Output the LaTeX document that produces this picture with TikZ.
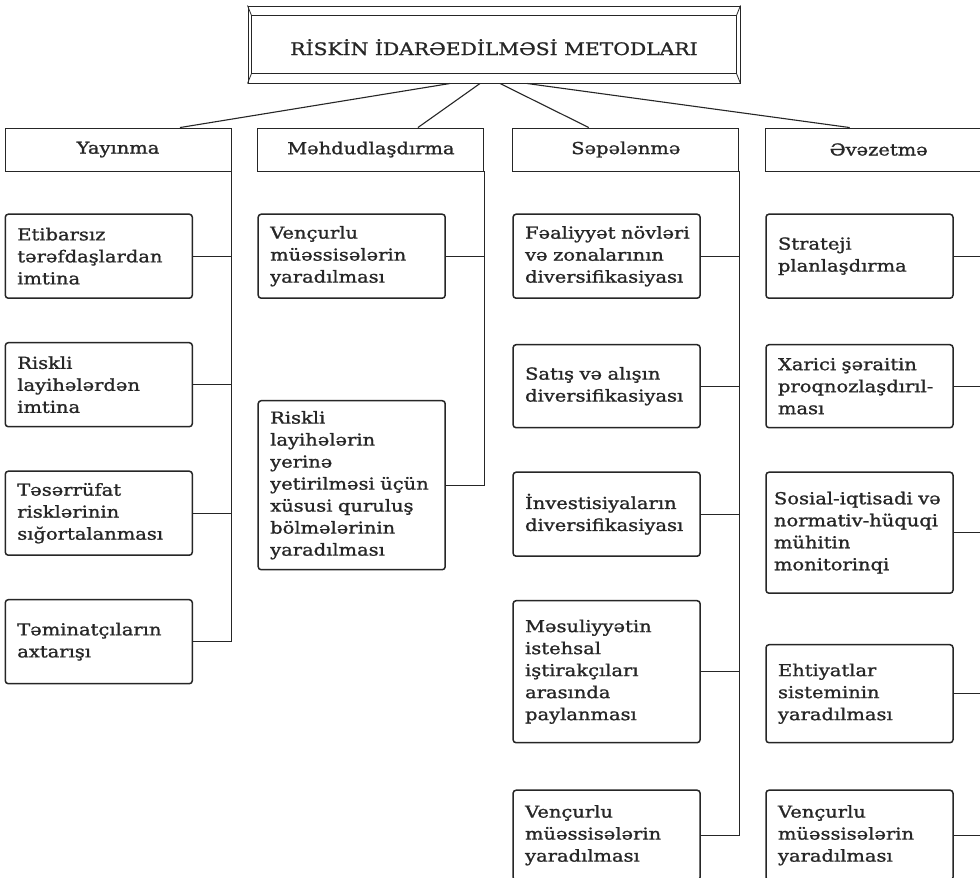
\documentclass[tikz,border=0pt]{standalone}
\usepackage{fontspec}
\setmainfont[FakeStretch=1.18, FakeBold=1.2]{DejaVu Serif}
\usetikzlibrary{positioning}
\definecolor{ink}{HTML}{262626}
\hyphenpenalty=10000
\exhyphenpenalty=10000

\begin{document}
\begin{tikzpicture}[x=1pt, y=-1pt,
  every node/.style={text=ink, font=\fontsize{16.5}{22}\selectfont},
  hd/.style={draw=ink, line width=0.9pt, minimum width=226pt,
             minimum height=43pt, inner sep=0pt},
  bx/.style={draw=ink, line width=1.5pt, rounded corners=3pt, align=left,
             text width=163pt, inner xsep=12pt, inner ysep=0pt, minimum height=84pt},
  ln/.style={draw=ink, line width=1.1pt}]
\fill[white] (0,0) rectangle (980,878);
\useasboundingbox (0,0) rectangle (980,878);
% title frame
\node[draw=ink, line width=1pt, minimum width=492pt, minimum height=77pt,
      text height=21pt, text depth=0pt, inner sep=0pt,
      font=\fontsize{17.2}{22}\selectfont] (t) at (494,44.5)
      {RİSKİN İDARƏEDİLMƏSİ METODLARI};
\draw[ln, line width=0.9pt] ([shift={(4pt,-10pt)}]t.north west)
  rectangle ([shift={(-4pt,10pt)}]t.south east);
\foreach \c/\dx/\dy in {north west/4/-10, north east/-4/-10,
                        south west/4/10, south east/-4/10}
  \draw[ln, line width=0.8pt] (t.\c) -- ([shift={(\dx pt,\dy pt)}]t.\c);
% headers
\node[hd] (h1) at (118,149.5) {Yayınma};
\node[hd, right=26pt of h1] (h2) {Məhdudlaşdırma};
\node[hd, right=28pt of h2] (h3) {Səpələnmə};
\node[hd, right=26pt of h3] (h4) {Əvəzetmə};
\draw[ln] ([xshift=-44pt]t.south) -- ([xshift=62pt]h1.north);
\draw[ln] ([xshift=-14pt]t.south) -- ([xshift=47pt]h2.north);
\draw[ln] ([xshift=6pt]t.south) -- ([xshift=-37pt]h3.north);
\draw[ln] ([xshift=33pt]t.south) -- ([xshift=-29pt]h4.north);
% Yayınma
\node[bx, below=42pt of h1.south west, anchor=north west] (a1) {Etibarsız\\tərəfdaşlardan\\imtina};
\node[bx, below=43pt of a1] (a2) {Riskli\\layihələrdən\\imtina};
\node[bx, below=43pt of a2] (a3) {Təsərrüfat\\risklərinin\\sığortalanması};
\node[bx, below=43pt of a3] (a4) {Təminatçıların\\axtarışı};
% Məhdudlaşdırma
\node[bx, below=42pt of h2.south west, anchor=north west] (b1) {Vençurlu\\müəssisələrin\\yaradılması};
\node[bx, below=101pt of b1, minimum height=169pt] (b2) {Riskli\\layihələrin\\yerinə\\\mbox{yetirilməsi üçün}\\xüsusi quruluş\\bölmələrinin\\yaradılması};
% Səpələnmə
\node[bx, below=42pt of h3.south west, anchor=north west] (c1) {\mbox{Fəaliyyət növləri}\\və zonalarının\\diversifikasiyası};
\node[bx, below=45pt of c1, minimum height=83pt] (c2) {Satış və alışın\\diversifikasiyası};
\node[bx, below=43pt of c2] (c3) {İnvestisiyaların\\diversifikasiyası};
\node[bx, below=43pt of c3, minimum height=142pt] (c4) {Məsuliyyətin\\istehsal\\iştirakçıları\\arasında\\paylanması};
\node[bx, below=46pt of c4, minimum height=90pt] (c5) {Vençurlu\\müəssisələrin\\yaradılması};
% Əvəzetmə
\node[bx, below=42pt of h4.south west, anchor=north west] (d1) {Strateji\\planlaşdırma};
\node[bx, below=45pt of d1, minimum height=83pt] (d2) {Xarici şəraitin\\proqnozlaşdırıl-\\ması};
\node[bx, below=43pt of d2, minimum height=121pt] (d3) {\hspace*{-4pt}\mbox{Sosial-iqtisadi və}\\\hspace*{-4pt}\mbox{normativ-hüquqi}\\\hspace*{-4pt}mühitin\\\hspace*{-4pt}monitorinqi};
\node[bx, below=50pt of d3, minimum height=98pt] (d4) {Ehtiyatlar\\sisteminin\\yaradılması};
\node[bx, below=46pt of d4, minimum height=90pt] (d5) {Vençurlu\\müəssisələrin\\yaradılması};
% buses
\draw[ln] (h1.south east) -- (h1.south east |- a4.east) -- (a4.east);
\foreach \n in {a1,a2,a3} \draw[ln] (\n.east) -- (\n.east -| h1.east);
\draw[ln] (h2.south east) -- (h2.south east |- b2.east) -- (b2.east);
\draw[ln] (b1.east) -- (b1.east -| h2.east);
\draw[ln] (h3.south east) -- (h3.south east |- c5.east) -- (c5.east);
\foreach \n in {c1,c2,c3,c4} \draw[ln] (\n.east) -- (\n.east -| h3.east);
\draw[ln] (h4.south east) -- (h4.south east |- d5.east) -- (d5.east);
\foreach \n in {d1,d2,d3,d4} \draw[ln] (\n.east) -- (\n.east -| h4.east);
\end{tikzpicture}
\end{document}
